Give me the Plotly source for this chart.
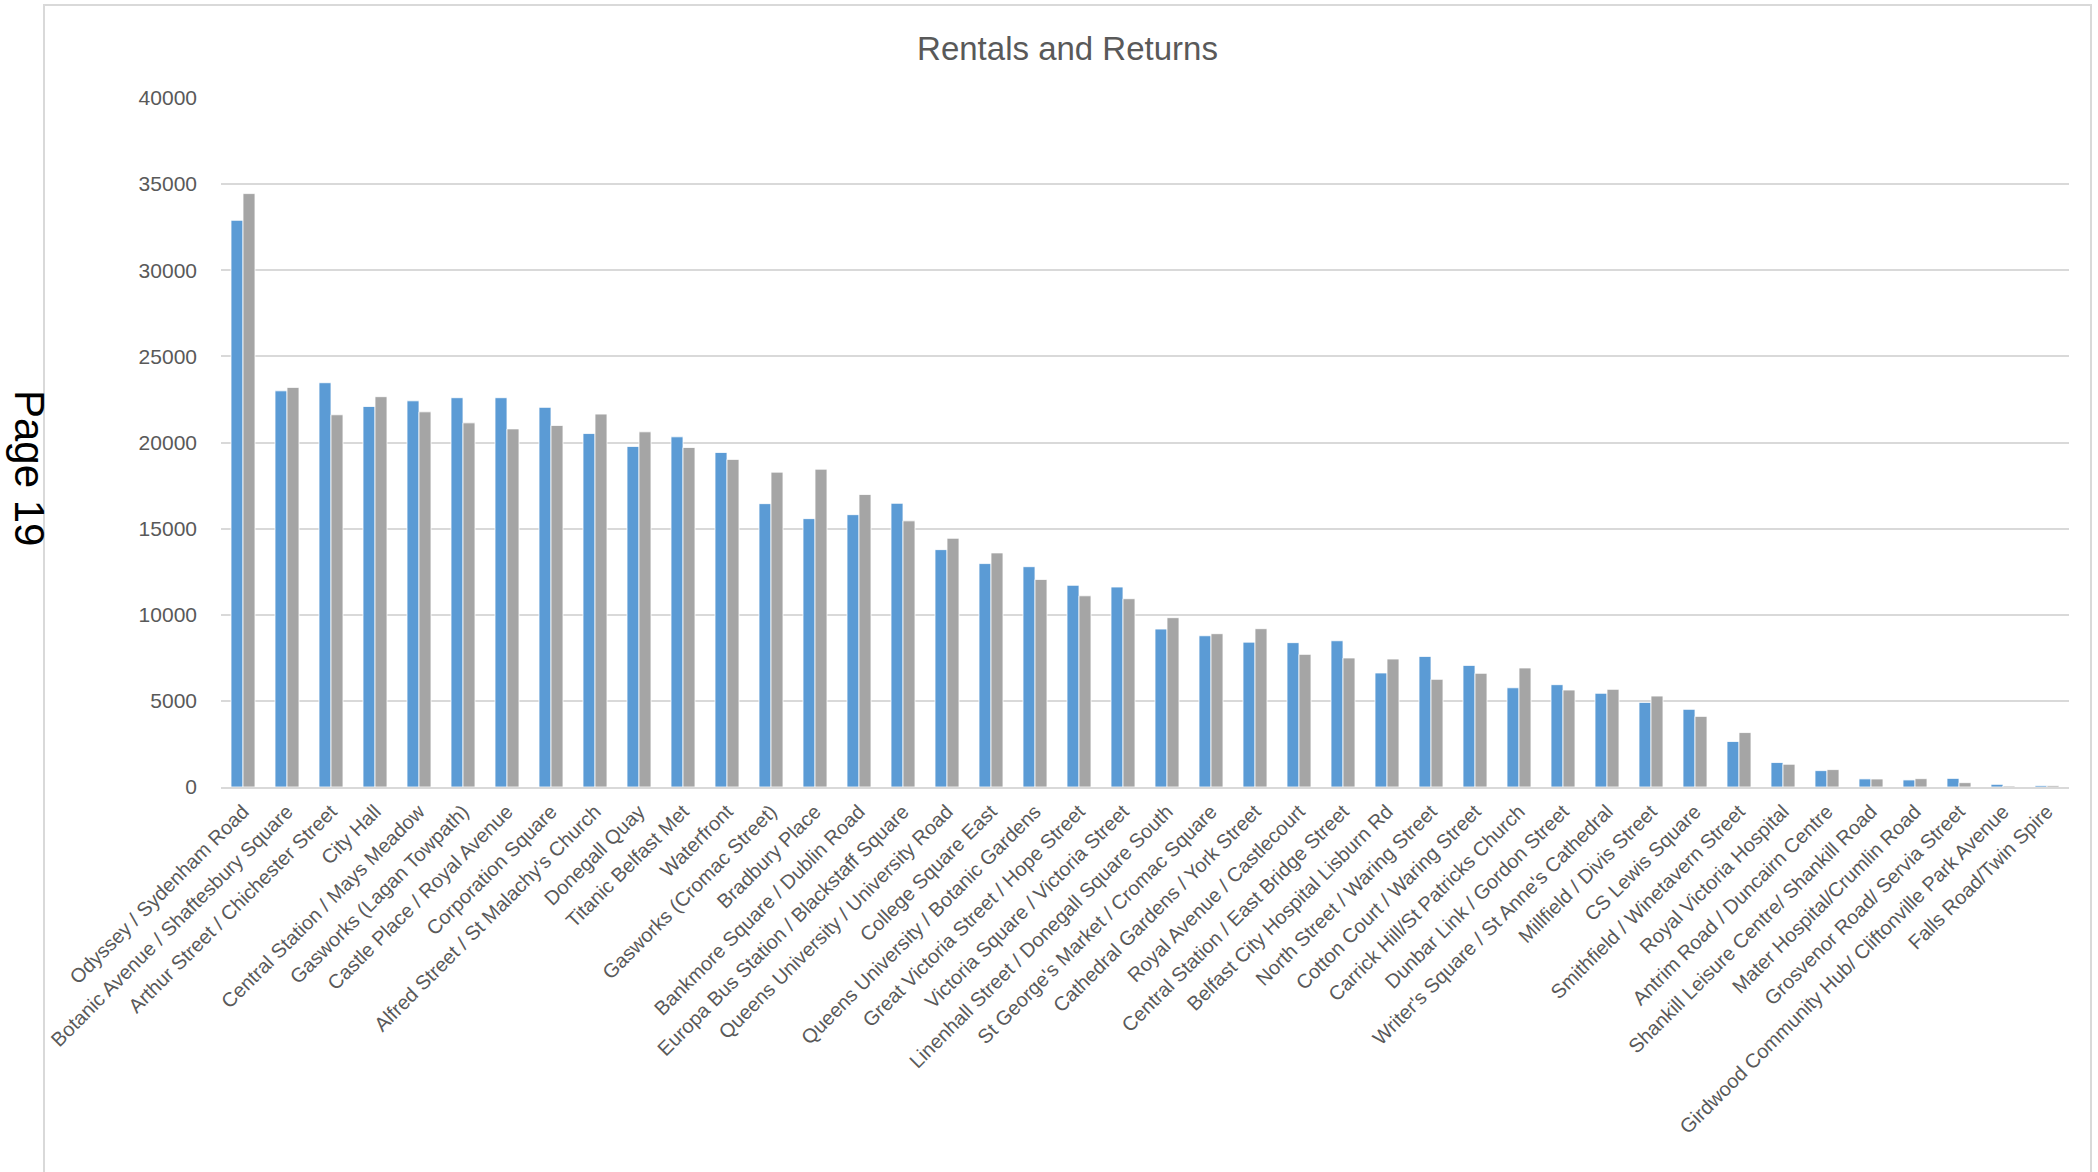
import plotly.graph_objects as go

categories = [
    "Odyssey / Sydenham Road",
    "Botanic Avenue / Shaftesbury Square",
    "Arthur Street / Chichester Street",
    "City Hall",
    "Central Station / Mays Meadow",
    "Gasworks (Lagan Towpath)",
    "Castle Place / Royal Avenue",
    "Corporation Square",
    "Alfred Street / St Malachy's Church",
    "Donegall Quay",
    "Titanic Belfast Met",
    "Waterfront",
    "Gasworks (Cromac Street)",
    "Bradbury Place",
    "Bankmore Square / Dublin Road",
    "Europa Bus Station / Blackstaff Square",
    "Queens University / University Road",
    "College Square East",
    "Queens University / Botanic Gardens",
    "Great Victoria Street / Hope Street",
    "Victoria Square / Victoria Street",
    "Linenhall Street / Donegall Square South",
    "St George's Market / Cromac Square",
    "Cathedral Gardens / York Street",
    "Royal Avenue / Castlecourt",
    "Central Station / East Bridge Street",
    "Belfast City Hospital Lisburn Rd",
    "North Street / Waring Street",
    "Cotton Court / Waring Street",
    "Carrick Hill/St Patricks Church",
    "Dunbar Link / Gordon Street",
    "Writer's Square / St Anne's Cathedral",
    "Millfield / Divis Street",
    "CS Lewis Square",
    "Smithfield / Winetavern Street",
    "Royal Victoria Hospital",
    "Antrim Road / Duncairn Centre",
    "Shankill Leisure Centre/ Shankill Road",
    "Mater Hospital/Crumlin Road",
    "Grosvenor Road/ Servia Street",
    "Girdwood Community Hub/ Cliftonville Park Avenue",
    "Falls Road/Twin Spire",
]

rentals = [32900, 23000, 23470, 22090, 22420, 22600, 22600, 22040, 20520, 19770,
           20330, 19420, 16450, 15580, 15810, 16470, 13780, 12970, 12790, 11710,
           11610, 9170, 8780, 8410, 8380, 8490, 6620, 7580, 7060, 5760,
           5940, 5440, 4910, 4510, 2640, 1420, 950, 470, 410, 500,
           155, 85]

returns = [34450, 23200, 21610, 22660, 21780, 21140, 20790, 20990, 21650, 20620,
           19710, 19020, 18280, 18450, 16980, 15450, 14440, 13590, 12050, 11100,
           10930, 9830, 8900, 9190, 7700, 7490, 7430, 6250, 6600, 6910,
           5630, 5670, 5280, 4100, 3160, 1320, 1010, 465, 484, 252,
           60, 85]

y_ticks = [0, 5000, 10000, 15000, 20000, 25000, 30000, 35000, 40000]

W, H = 2098, 1172
L, R, T, B = 221, 2069, 98, 787  # plot area pixel box
FONT = "Liberation Sans, Arial, sans-serif"
TXT = "#595959"
GRID = "#D9D9D9"

fig = go.Figure()
fig.add_trace(go.Bar(name="Rentals", x=categories, y=rentals,
                     marker=dict(color="#5B9BD5", line=dict(color="white", width=0.8))))
fig.add_trace(go.Bar(name="Returns", x=categories, y=returns,
                     marker=dict(color="#A5A5A5", line=dict(color="white", width=0.8))))

def px_x(p):
    return (p - L) / (R - L)

def px_y(p):
    return (B - p) / (B - T)

fig.update_layout(
    width=W, height=H,
    margin=dict(l=L, r=W - R, t=T, b=H - B, autoexpand=False),
    paper_bgcolor="white", plot_bgcolor="white",
    barmode="group", bargap=0.455, bargroupgap=0.0,
    showlegend=False,
    font=dict(family=FONT, color=TXT),
    title=dict(text="Rentals and Returns", x=1067.5 / W, xref="container", xanchor="center",
               y=1 - 48 / H, yref="container", yanchor="middle",
               font=dict(family=FONT, size=33, color=TXT)),
    xaxis=dict(showgrid=False, showline=True, linecolor=GRID, linewidth=2,
               ticks="", tickangle=-45, ticklabelstandoff=3,
               tickfont=dict(family=FONT, size=20, color=TXT),
               automargin=False),
    yaxis=dict(range=[0, 40000], tickvals=y_ticks, ticktext=[str(v) for v in y_ticks],
               showgrid=True, gridcolor=GRID, gridwidth=1.5, zeroline=False,
               showline=False, ticks="", ticklabelstandoff=23,
               tickfont=dict(family=FONT, size=21, color=TXT), automargin=False),
    shapes=[dict(type="rect", xref="paper", yref="paper",
                 x0=px_x(44), x1=px_x(2091), y0=px_y(1250), y1=px_y(5),
                 line=dict(color=GRID, width=2), fillcolor="rgba(0,0,0,0)", layer="below")],
    annotations=[dict(text="Page 19", xref="paper", yref="paper",
                      x=px_x(30), y=px_y(468), xanchor="center", yanchor="middle",
                      textangle=90, showarrow=False,
                      font=dict(family=FONT, size=42, color="black"))],
)

fig.write_html("out.html", config={"displayModeBar": False},
               post_script="document.body.style.margin='0';document.body.style.overflow='hidden';")
